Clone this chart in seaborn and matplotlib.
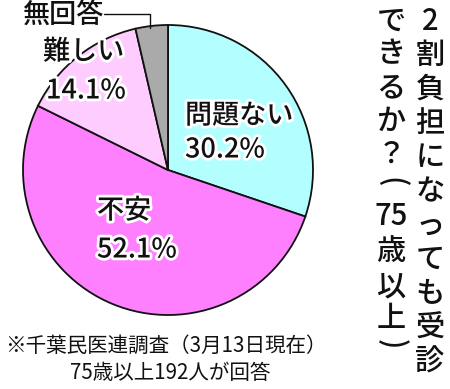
import matplotlib
matplotlib.use('Agg')
import matplotlib.pyplot as plt
import matplotlib.patheffects as pe
import seaborn as sns

# ---- data ----
categories = ['問題ない', '不安', '難しい', '無回答']
values = [30.2, 52.1, 14.1, 3.6]
colors = ['#b3ffff', '#ff80ff', '#ffccff', '#aaaaaa']
title_col1 = ['2', '割', '負', '担', 'に', 'な', 'っ', 'て', 'も', '受', '診']
title_col2 = ['で', 'き', 'る', 'か', '？', '(', '75', '歳', '以', '上', ')']
note_lines = ['※千葉民医連調査（3月13日現在）', '75歳以上192人が回答']

sns.set_theme(style='white')
plt.rcParams['font.family'] = ['Noto Sans CJK JP', 'DejaVu Sans']

W, H = 450, 389
fig = plt.figure(figsize=(W / 100, H / 100), dpi=100)
fig.patch.set_facecolor('white')

cx, cy, r = 168, 170, 145
pad = 1.05
ax = fig.add_axes([(cx - r * pad) / W, 1 - (cy + r * pad) / H, 2 * r * pad / W, 2 * r * pad / H])
ax.pie(values, colors=colors, startangle=90, counterclock=False, radius=1,
       wedgeprops=dict(edgecolor='#111111', linewidth=1.3))
ax.set_xlim(-pad, pad)
ax.set_ylim(-pad, pad)
ax.set_aspect('equal')
ax.axis('off')


def ftext(x, y, s, **kw):
    return fig.text(x / W, 1 - y / H, s, **kw)


stroke = [pe.withStroke(linewidth=4, foreground='white')]
lab_fs = 19.5
label_layout = {
    '問題ない': ((185, 116), (185, 150)),
    '不安': ((97, 211), (97, 250)),
    '難しい': ((43, 52), (46, 91)),
}
for cat, val in zip(categories, values):
    if cat in label_layout:
        (x1, y1), (x2, y2) = label_layout[cat]
        ftext(x1, y1, cat, fontsize=lab_fs, ha='left', va='center', color='#111111',
              fontweight='medium', path_effects=stroke)
        ftext(x2, y2, f'{val}%', fontsize=lab_fs, ha='left', va='center', color='#111111',
              fontweight='medium', path_effects=stroke)

# 無回答 with leader line
ftext(22, 15, categories[3], fontsize=lab_fs, ha='left', va='center', color='#111111', fontweight='medium')
fig.add_artist(plt.Line2D([104 / W, 150 / W, 150 / W], [1 - 14 / H, 1 - 14 / H, 1 - 28 / H],
                          transform=fig.transFigure, color='#111111', linewidth=1.0))

# vertical title
t_fs = 21
for i, ch in enumerate(title_col1):
    ftext(430, 21 + i * 34.1, ch, fontsize=t_fs, ha='center', va='center', color='#111111', fontweight='medium')
col2_y = [21, 54, 88, 121, 154, 182, 216, 252, 287, 318, 344]
for ch, y in zip(title_col2, col2_y):
    rot = -90 if ch in '()' else 0
    ftext(391, y, ch, fontsize=t_fs, ha='center', va='center', color='#111111',
          fontweight='medium', rotation=rot)

# footnote
ftext(5, 346, note_lines[0], fontsize=14.8, ha='left', va='center', color='#111111')
ftext(170, 373, note_lines[1], fontsize=14.8, ha='center', va='center', color='#111111')

fig.savefig('out.png', dpi=100, facecolor='white')
